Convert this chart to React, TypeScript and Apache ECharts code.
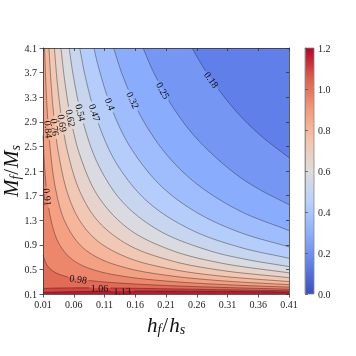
import React, { useEffect, useRef } from "react";
import * as echarts from "echarts";

const FONT = '"Liberation Serif", "DejaVu Serif", serif';

// axis ranges and tick steps
const xRange = [0.01, 0.41];
const xStep = 0.05;
const yRange = [0.1, 4.1];
const yStep = 0.4;
const colorbarRange = [0, 1.2];
const colorbarStep = 0.2;

// contour levels (lowest and highest filled bounds, then the drawn lines)
const levelFloor = 0.1047;
const levelCeil = 1.2047;
const levels = [0.178, 0.2514, 0.3247, 0.398, 0.4714, 0.5447, 0.618, 0.6913, 0.7647, 0.838, 0.9113, 0.9847, 1.058, 1.1313];
const levelLabels = ["0.18", "0.25", "0.32", "0.4", "0.47", "0.54", "0.62", "0.69", "0.76", "0.84", "0.91", "0.98", "1.06", "1.13"];

// contour lines: [h_f/h_s, M_f/M_s]
const contour018 = [[0.2523, 4.1], [0.265, 3.878], [0.28, 3.64], [0.32, 3.117], [0.36, 2.711], [0.41, 2.315]];
const contour025 = [[0.1727, 4.1], [0.19, 3.701], [0.22, 3.157], [0.26, 2.626], [0.32, 2.076], [0.36, 1.811], [0.41, 1.553]];
const contour032 = [[0.1248, 4.1], [0.14, 3.639], [0.17, 2.973], [0.21, 2.379], [0.26, 1.89], [0.33, 1.451], [0.41, 1.132]];
const contour040 = [[0.0927, 4.1], [0.1, 3.798], [0.12, 3.16], [0.15, 2.52], [0.2, 1.875], [0.26, 1.425], [0.33, 1.102], [0.41, 0.866]];
const contour047 = [[0.0697, 4.1], [0.08, 3.58], [0.1, 2.873], [0.13, 2.215], [0.18, 1.602], [0.25, 1.148], [0.33, 0.86], [0.41, 0.681]];
const contour054 = [[0.0525, 4.1], [0.06, 3.604], [0.075, 2.902], [0.1, 2.198], [0.14, 1.589], [0.2, 1.124], [0.28, 0.806], [0.34, 0.663], [0.41, 0.546]];
const contour062 = [[0.0392, 4.1], [0.045, 3.589], [0.055, 2.961], [0.07, 2.356], [0.1, 1.683], [0.15, 1.153], [0.22, 0.807], [0.3, 0.602], [0.41, 0.444]];
const contour069 = [[0.0285, 4.1], [0.033, 3.564], [0.04, 2.971], [0.05, 2.41], [0.07, 1.766], [0.1, 1.278], [0.15, 0.892], [0.22, 0.637], [0.3, 0.484], [0.41, 0.365]];
const contour076 = [[0.0197, 4.1], [0.0225, 3.62], [0.027, 3.053], [0.035, 2.4], [0.05, 1.736], [0.07, 1.29], [0.1, 0.952], [0.15, 0.682], [0.22, 0.501], [0.3, 0.39], [0.41, 0.302]];
const contour084 = [[0.0125, 4.1], [0.015, 3.445], [0.02, 2.64], [0.03, 1.831], [0.045, 1.291], [0.07, 0.901], [0.1, 0.686], [0.15, 0.512], [0.22, 0.392], [0.3, 0.315], [0.41, 0.251]];
const contour091 = [[0.01, 2.675], [0.013, 2.114], [0.018, 1.595], [0.025, 1.218], [0.035, 0.938], [0.05, 0.727], [0.07, 0.582], [0.1, 0.47], [0.15, 0.374], [0.22, 0.303], [0.3, 0.255], [0.41, 0.211]];
const contour098 = [[0.01, 0.728], [0.015, 0.596], [0.02, 0.526], [0.03, 0.449], [0.05, 0.377], [0.07, 0.339], [0.1, 0.304], [0.15, 0.268], [0.22, 0.234], [0.3, 0.207], [0.41, 0.178]];
const contour106 = [[0.01, 0.19], [0.03, 0.196], [0.07, 0.2], [0.1, 0.199], [0.15, 0.194], [0.22, 0.183], [0.3, 0.17], [0.41, 0.153]];
const contour113 = [[0.01, 0.126], [0.05, 0.136], [0.1, 0.144], [0.15, 0.147], [0.22, 0.147], [0.3, 0.142], [0.41, 0.132]];

const contours = [
  contour018, contour025, contour032, contour040, contour047, contour054, contour062,
  contour069, contour076, contour084, contour091, contour098, contour106, contour113,
];

// where each inline label sits
const labelAnchors = [
  [0.2827, 3.563], [0.2051, 3.417], [0.1596, 3.254], [0.119, 3.173], [0.0946, 3.06], [0.0726, 3.04], [0.0555, 2.96],
  [0.0401, 2.88], [0.0295, 2.815], [0.0181, 2.77], [0.0165, 1.68], [0.0677, 0.38], [0.1027, 0.19], [0.14, 0.14],
];

const coolwarmStops: [number, string][] = [
  [0, "#3b4cc0"], [0.125, "#6282ea"], [0.25, "#8db0fe"], [0.375, "#b9d0f9"], [0.5, "#dddcdc"],
  [0.625, "#f5c4ac"], [0.75, "#f49a7b"], [0.875, "#de604d"], [1, "#b40426"],
];

function hexToRgb(h: string) {
  return [parseInt(h.slice(1, 3), 16), parseInt(h.slice(3, 5), 16), parseInt(h.slice(5, 7), 16)];
}
function coolwarm(t: number) {
  const tt = Math.max(0, Math.min(1, t));
  for (let i = 0; i < coolwarmStops.length - 1; i++) {
    const [a, ca] = coolwarmStops[i];
    const [b, cb] = coolwarmStops[i + 1];
    if (tt <= b) {
      const f = (tt - a) / (b - a);
      const A = hexToRgb(ca), B = hexToRgb(cb);
      const c = A.map((v, k) => Math.round(v + (B[k] - v) * f));
      return `rgb(${c[0]},${c[1]},${c[2]})`;
    }
  }
  return coolwarmStops[coolwarmStops.length - 1][1];
}

const bounds = [levelFloor, ...levels, levelCeil];
const bandColors = bounds.slice(0, -1).map((b, i) =>
  coolwarm(((b + bounds[i + 1]) / 2 - colorbarRange[0]) / (colorbarRange[1] - colorbarRange[0]))
);

function smoothPath(pts: number[][], steps = 16): number[][] {
  const n = pts.length;
  if (n < 3) return pts;
  const ext = [
    [2 * pts[0][0] - pts[1][0], 2 * pts[0][1] - pts[1][1]],
    ...pts,
    [2 * pts[n - 1][0] - pts[n - 2][0], 2 * pts[n - 1][1] - pts[n - 2][1]],
  ];
  const dist = (a: number[], b: number[]) => Math.max(Math.sqrt(Math.hypot(b[0] - a[0], b[1] - a[1])), 1e-4);
  const out: number[][] = [pts[0]];
  for (let i = 1; i < ext.length - 2; i++) {
    const p0 = ext[i - 1], p1 = ext[i], p2 = ext[i + 1], p3 = ext[i + 2];
    const t0 = 0, t1 = t0 + dist(p0, p1), t2 = t1 + dist(p1, p2), t3 = t2 + dist(p2, p3);
    for (let s = 1; s <= steps; s++) {
      const t = t1 + ((t2 - t1) * s) / steps;
      const lerp = (a: number[], b: number[], ta: number, tb: number) => [
        ((tb - t) / (tb - ta)) * a[0] + ((t - ta) / (tb - ta)) * b[0],
        ((tb - t) / (tb - ta)) * a[1] + ((t - ta) / (tb - ta)) * b[1],
      ];
      const A1 = lerp(p0, p1, t0, t1), A2 = lerp(p1, p2, t1, t2), A3 = lerp(p2, p3, t2, t3);
      const B1 = lerp(A1, A2, t0, t2), B2 = lerp(A2, A3, t1, t3);
      out.push(lerp(B1, B2, t1, t2));
    }
  }
  return out;
}

const titleRich = {
  i: { fontFamily: FONT, fontStyle: "italic", fontSize: 21, lineHeight: 22, color: "#111" },
  n: { fontFamily: FONT, fontSize: 21, lineHeight: 22, color: "#111", padding: [0, 1, 0, 1] },
  s: { fontFamily: FONT, fontStyle: "italic", fontSize: 14, lineHeight: 12, verticalAlign: "bottom", color: "#111" },
};

const LABEL_SIZE = 10;
function labelWidth(t: string) {
  let w = 0;
  for (const ch of t) w += ch === "." ? 0.25 : 0.5;
  return w * LABEL_SIZE;
}

export default function App() {
  const ref = useRef<HTMLDivElement>(null);
  useEffect(() => {
    if (!ref.current) return;
    const chart = echarts.init(ref.current, undefined, { renderer: "svg" });
    const axisLine = { show: true, onZero: false, lineStyle: { color: "#333", width: 0.8 } };
    const tickStyle = { color: "#333", width: 0.8 };
    const option: any = {
      animation: false,
      grid: [
        { left: 43, top: 48, width: 246, height: 246, containLabel: false, outerBoundsMode: "none" },
        { left: 305, top: 48, width: 9, height: 246, containLabel: false, outerBoundsMode: "none" },
      ],
      xAxis: [
        {
          gridIndex: 0, type: "value", min: xRange[0], max: xRange[1], interval: xStep, position: "bottom", z: 10,
          axisLine, axisTick: { show: true, inside: false, length: 3.5, lineStyle: tickStyle },
          axisLabel: { formatter: (v: number) => v.toFixed(2), fontFamily: FONT, fontSize: 10, color: "#222", margin: 5 },
          splitLine: { show: false },
          name: "{i|h}{s|f}{n|/}{i|h}{s|s}", nameLocation: "middle", nameGap: 20, nameMoveOverlap: false,
          nameTextStyle: { rich: titleRich },
        },
        {
          gridIndex: 0, type: "value", min: xRange[0], max: xRange[1], interval: xStep, position: "top", z: 10,
          axisLine, axisTick: { show: true, inside: true, length: 3, lineStyle: tickStyle },
          axisLabel: { show: false }, splitLine: { show: false },
        },
        { gridIndex: 1, type: "value", min: 0, max: 1, show: false },
      ],
      yAxis: [
        {
          gridIndex: 0, type: "value", min: yRange[0], max: yRange[1], interval: yStep, position: "left", z: 10,
          axisLine, axisTick: { show: true, inside: false, length: 3.5, lineStyle: tickStyle },
          axisLabel: { formatter: (v: number) => v.toFixed(1), fontFamily: FONT, fontSize: 10, color: "#222", margin: 6 },
          splitLine: { show: false },
          name: "{i|M}{s|f}{n|/}{i|M}{s|s}", nameLocation: "middle", nameGap: 21, nameRotate: 90, nameMoveOverlap: false,
          nameTextStyle: { rich: titleRich },
        },
        {
          gridIndex: 0, type: "value", min: yRange[0], max: yRange[1], interval: yStep, position: "right", z: 10,
          axisLine, axisTick: { show: true, inside: true, length: 3, lineStyle: tickStyle },
          axisLabel: { show: false }, splitLine: { show: false },
        },
        {
          gridIndex: 1, type: "value", min: colorbarRange[0], max: colorbarRange[1], interval: colorbarStep, position: "right", z: 10,
          axisLine: { show: true, lineStyle: { color: "#888", width: 0.8 } },
          axisTick: { show: true, inside: false, length: 3, lineStyle: { color: "#555", width: 0.8 } },
          axisLabel: { formatter: (v: number) => v.toFixed(1), fontFamily: FONT, fontSize: 10, color: "#222", margin: 4 },
          splitLine: { show: false },
        },
      ],
      series: [
        {
          type: "custom", xAxisIndex: 0, yAxisIndex: 0, z: 1, clip: true, silent: true,
          data: bandColors.map((_, i) => i),
          renderItem: (params: any, api: any) => {
            const i = params.dataIndex;
            const bl = api.coord([xRange[0], yRange[0]]);
            const br = api.coord([xRange[1], yRange[0]]);
            const tl = api.coord([xRange[0], yRange[1]]);
            const tr = api.coord([xRange[1], yRange[1]]);
            if (i === 0) {
              return { type: "polygon", shape: { points: [tl, tr, br, bl] }, style: { fill: bandColors[0] } };
            }
            const c = contours[i - 1];
            const pts = smoothPath(c.map((p) => api.coord(p)));
            const poly = [...pts, br, bl];
            if (c[0][1] >= yRange[1] - 1e-6) poly.push(tl);
            return { type: "polygon", shape: { points: poly }, style: { fill: bandColors[i], stroke: bandColors[i], lineWidth: 0.3 } };
          },
        },
        {
          type: "custom", xAxisIndex: 0, yAxisIndex: 0, z: 3, clip: false, silent: true,
          data: contours.map((_, i) => i),
          renderItem: (params: any, api: any) => {
            const i = params.dataIndex;
            const pts = smoothPath(contours[i].map((p) => api.coord(p)), 24);
            const anchor = api.coord(labelAnchors[i]);
            let j = 0, best = Infinity;
            pts.forEach((p, k) => {
              const d = (p[0] - anchor[0]) ** 2 + (p[1] - anchor[1]) ** 2;
              if (d < best) { best = d; j = k; }
            });
            const c = pts[j];
            const a0 = pts[Math.max(0, j - 4)], a1 = pts[Math.min(pts.length - 1, j + 4)];
            let ang = Math.atan2(a1[1] - a0[1], a1[0] - a0[0]);
            if (ang > Math.PI / 2) ang -= Math.PI;
            if (ang < -Math.PI / 2) ang += Math.PI;
            const text = levelLabels[i];
            const half = labelWidth(text) / 2 + 1.5;
            const pieces: number[][][] = [];
            let cur: number[][] = [];
            for (const p of pts) {
              if (Math.hypot(p[0] - c[0], p[1] - c[1]) < half) {
                if (cur.length > 1) pieces.push(cur);
                cur = [];
              } else cur.push(p);
            }
            if (cur.length > 1) pieces.push(cur);
            const children: any[] = pieces.map((pc) => ({
              type: "polyline", shape: { points: pc },
              style: { stroke: "rgba(30,30,30,0.7)", lineWidth: 0.6, fill: null },
            }));
            children.push({
              type: "text", x: c[0], y: c[1], rotation: -ang,
              style: { text, x: 0, y: 0, align: "center", verticalAlign: "middle", fill: "#111", font: `${LABEL_SIZE}px ${FONT}` },
            });
            return { type: "group", children };
          },
        },
        {
          type: "custom", xAxisIndex: 2, yAxisIndex: 2, z: 1, silent: true,
          data: [0],
          renderItem: (_params: any, api: any) => {
            const p0 = api.coord([0, colorbarRange[1]]);
            const p1 = api.coord([1, colorbarRange[0]]);
            const stops = coolwarmStops.map(([t, col]) => ({ offset: 1 - t, color: col })).reverse();
            return {
              type: "rect",
              shape: { x: p0[0], y: p0[1], width: p1[0] - p0[0], height: p1[1] - p0[1] },
              style: { fill: new echarts.graphic.LinearGradient(0, 0, 0, 1, stops), stroke: "#888", lineWidth: 0.8 },
            };
          },
        },
      ],
    };
    chart.setOption(option);
    return () => chart.dispose();
  }, []);
  return <div ref={ref} style={{ position: "fixed", left: 0, top: 0, width: 356, height: 356 }} />;
}
